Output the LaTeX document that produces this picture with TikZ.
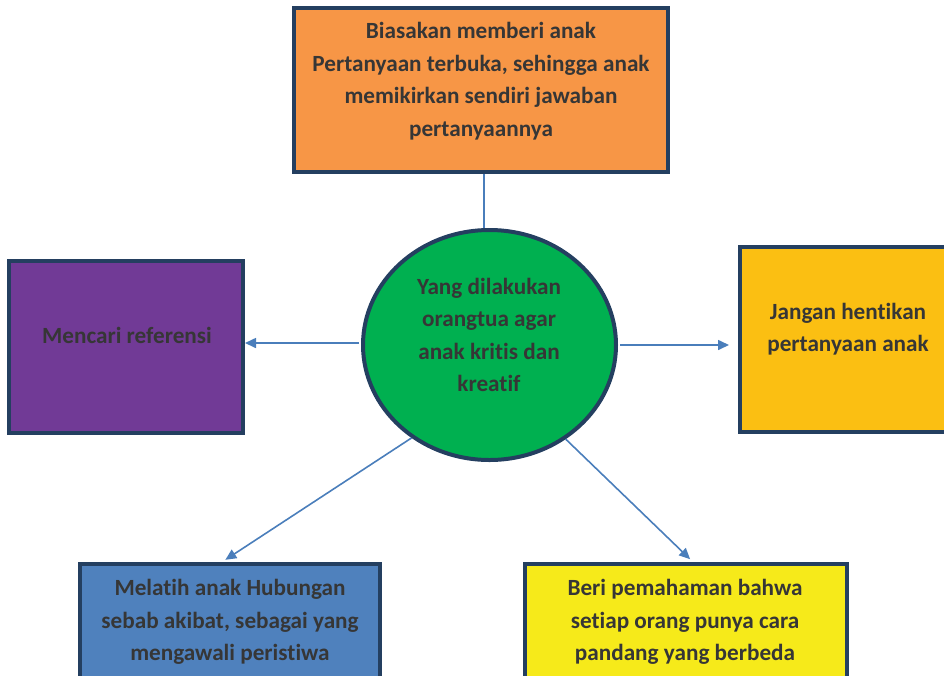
\documentclass[tikz,border=0pt]{standalone}
\usepackage{fontspec}
\setmainfont{Carlito}[Ligatures=NoCommon]
\usepackage{tikz}
\usetikzlibrary{positioning, arrows.meta, shapes.geometric}
\definecolor{garis}{HTML}{243F60}
\definecolor{teksabu}{HTML}{363636}
\definecolor{penghubung}{HTML}{4A7EBB}
\definecolor{oranye}{HTML}{F79646}
\definecolor{ungu}{HTML}{713A96}
\definecolor{kuningtua}{HTML}{FBBF12}
\definecolor{birumuda}{HTML}{4F81BD}
\definecolor{kuning}{HTML}{F6EA1A}
\definecolor{hijau}{HTML}{00B050}

\begin{document}
\begin{tikzpicture}[
        x=1pt, y=-1pt,
        kotak/.style={rectangle, draw=garis, line width=4pt},
        tulisan/.style={font=\fontsize{23.2}{32.6}\selectfont\bfseries, text=teksabu, align=center, inner sep=0pt},
        hubung/.style={draw=penghubung, line width=1.6pt},
        panah/.style={hubung, -{Triangle[length=11pt, width=10pt]}}
    ]
    \useasboundingbox (0,0) rectangle (944,675);
    \clip (0,0) rectangle (944,675);

    % kotak-kotak
    \node[kotak, fill=oranye, minimum width=374, minimum height=164] (saran) at (481,90) {};
    \node[kotak, fill=ungu, minimum width=234, minimum height=172] (cari) at (126,347) {};
    \node[kotak, fill=kuningtua, minimum width=216, minimum height=185] (jangan) at (848,339.5) {};
    \node[kotak, fill=birumuda, minimum width=300, minimum height=136] (latih) at (230,632) {};
    \node[kotak, fill=kuning, minimum width=322, minimum height=136] (pahami) at (686,632) {};
    \node[ellipse, draw=garis, line width=4pt, fill=hijau, minimum width=253, minimum height=230] (pusat) at (489.5,345) {};

    % teks
    \node[tulisan] (saranTeks) at (481,81) {Biasakan memberi anak\\Pertanyaan terbuka, sehingga anak\\memikirkan sendiri jawaban\\pertanyaannya};
    \node[tulisan] (cariTeks) at (127,335) {Mencari referensi};
    \node[tulisan] (janganTeks) at (848,329) {Jangan hentikan\\pertanyaan anak};
    \node[tulisan] (latihTeks) at (230,622) {Melatih anak Hubungan\\sebab akibat, sebagai yang\\mengawali peristiwa};
    \node[tulisan] (pahamiTeks) at (685,622) {Beri pemahaman bahwa\\setiap orang punya cara\\pandang yang berbeda};
    \node[tulisan] (pusatTeks) at (489,335) {Yang dilakukan\\orangtua agar\\anak kritis dan\\kreatif};

    % penghubung
    \draw[hubung] ([xshift=3pt]saran.south) -- ([xshift=3pt]saran.south |- pusat.north);
    \draw[panah, shorten <=2pt] ([yshift=2pt]pusat.west) -- ([yshift=2pt]pusat.west -| cari.east);
    \draw[panah, shorten <=2pt, shorten >=9pt] (pusat.east) -- (pusat.east -| jangan.west);
    \draw[panah, shorten >=4pt] (pusat.230) -- ([xshift=-8pt]latih.north);
    \draw[panah, shorten >=4pt] (pusat.309) -- ([xshift=7pt]pahami.north);
\end{tikzpicture}
\end{document}
